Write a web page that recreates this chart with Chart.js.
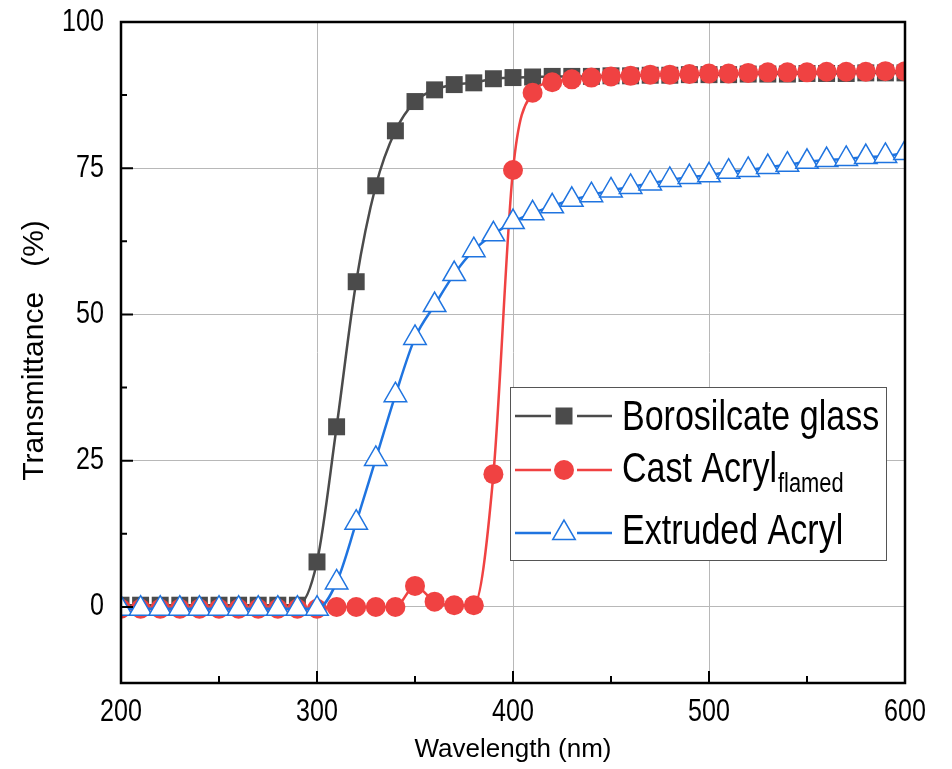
<!DOCTYPE html>
<html>
<head>
<meta charset="utf-8">
<script src="https://cdn.jsdelivr.net/npm/chart.js@4.4.0/dist/chart.umd.min.js"></script>
<style>
  html, body { margin: 0; padding: 0; background: #fff; }
  canvas { display: block; }
</style>
</head>
<body>
<canvas id="myChart" width="952" height="769"></canvas>
<script>
// wavelength (nm) and transmittance (%)
const wavelengths = [200, 210, 220, 230, 240, 250, 260, 270, 280, 290,
    300, 310, 320, 330, 340, 350, 360, 370, 380, 390,
    400, 410, 420, 430, 440, 450, 460, 470, 480, 490,
    500, 510, 520, 530, 540, 550, 560, 570, 580, 590, 600];
const borosilicate = [0.3, 0.3, 0.3, 0.3, 0.3, 0.3, 0.3, 0.3, 0.3, 0.3,
    7.7, 30.8, 55.6, 72.0, 81.4, 86.4, 88.4, 89.3, 89.6, 90.3,
    90.5, 90.6, 90.7, 90.7, 90.7, 90.8, 90.8, 90.9, 90.9, 91.0,
    91.0, 91.0, 91.1, 91.1, 91.1, 91.2, 91.2, 91.2, 91.3, 91.3, 91.3];
const castAcryl = [-0.3, -0.3, -0.3, -0.3, -0.3, -0.3, -0.3, -0.3, -0.3, -0.3,
    -0.3, 0, 0, 0, 0, 3.6, 0.9, 0.3, 0.3, 22.7,
    74.7, 87.9, 89.7, 90.2, 90.5, 90.7, 90.8, 91.0, 91.0, 91.1,
    91.2, 91.2, 91.3, 91.4, 91.4, 91.4, 91.5, 91.5, 91.5, 91.6, 91.6];
const extrudedAcryl = [-0.3, -0.3, -0.3, -0.3, -0.3, -0.3, -0.3, -0.3, -0.3, -0.3,
    -0.3, 4.2, 14.4, 25.3, 36.2, 46.0, 51.6, 56.9, 61.0, 63.7,
    65.8, 67.3, 68.5, 69.6, 70.4, 71.2, 71.8, 72.4, 73.0, 73.5,
    73.8, 74.4, 74.7, 75.2, 75.6, 76.1, 76.4, 76.6, 76.9, 77.1, 77.6];

const xTicks = [200, 300, 400, 500, 600];
const yTicks = [0, 25, 50, 75, 100];
const seriesNames = ['Borosilcate glass', 'Cast Acryl', 'Extruded Acryl'];
const castSubscript = 'flamed';
const xTitle = 'Wavelength (nm)';
const yTitle = 'Transmittance   (%)';

const GRAY = '#4b4b4b';
const RED = '#f04242';
const BLUE = '#1f74e0';
const SANS = '"Liberation Sans", Arial, sans-serif';
const NARROW_X = 0.81; // no Arial Narrow here, so squeeze Liberation Sans

function toPoints(ys) {
    return wavelengths.map((w, i) => ({ x: w, y: ys[i] }));
}

// squeezed text, like Arial Narrow
function narrowText(ctx, text, x, y, size, align) {
    ctx.save();
    ctx.font = size + 'px ' + SANS;
    ctx.textBaseline = 'alphabetic';
    ctx.textAlign = align;
    ctx.translate(x, y);
    ctx.scale(NARROW_X, 1);
    ctx.fillText(text, 0, 0);
    const w = ctx.measureText(text).width * NARROW_X;
    ctx.restore();
    return w;
}

// frame plus inward major/minor ticks on left and bottom
const framePlugin = {
    id: 'frame',
    afterDatasetsDraw(chart) {
        const { ctx, chartArea: a, scales: { x, y } } = chart;
        ctx.save();
        ctx.strokeStyle = '#000';
        ctx.lineWidth = 2;
        ctx.beginPath();
        for (let i = 0; i < xTicks.length; i++) {
            const px = x.getPixelForValue(xTicks[i]);
            ctx.moveTo(px, a.bottom); ctx.lineTo(px, a.bottom - 12);
            if (i < xTicks.length - 1) {
                const mx = x.getPixelForValue((xTicks[i] + xTicks[i + 1]) / 2);
                ctx.moveTo(mx, a.bottom); ctx.lineTo(mx, a.bottom - 7);
            }
        }
        for (let i = 0; i < yTicks.length; i++) {
            const py = y.getPixelForValue(yTicks[i]);
            ctx.moveTo(a.left, py); ctx.lineTo(a.left + 12, py);
            if (i < yTicks.length - 1) {
                const my = y.getPixelForValue((yTicks[i] + yTicks[i + 1]) / 2);
                ctx.moveTo(a.left, my); ctx.lineTo(a.left + 6, my);
            }
        }
        ctx.stroke();
        ctx.lineWidth = 2.5;
        ctx.strokeRect(a.left, a.top, a.right - a.left, a.bottom - a.top);
        ctx.restore();
    }
};

// tick labels and axis titles
const textPlugin = {
    id: 'axisText',
    afterDraw(chart) {
        const { ctx, chartArea: a, scales: { x, y } } = chart;
        ctx.save();
        ctx.fillStyle = '#000';
        xTicks.forEach(v => narrowText(ctx, String(v), x.getPixelForValue(v), a.bottom + 38, 31, 'center'));
        yTicks.forEach(v => narrowText(ctx, String(v), a.left - 17, y.getPixelForValue(v) + 8.5, 31, 'right'));

        ctx.font = '26px ' + SANS;
        ctx.textAlign = 'center';
        ctx.textBaseline = 'alphabetic';
        ctx.fillText(xTitle, (a.left + a.right) / 2, 757);

        ctx.translate(43, (a.top + a.bottom) / 2 - 2);
        ctx.rotate(-Math.PI / 2);
        ctx.font = '30px ' + SANS;
        ctx.fillText(yTitle, 0, 0);
        ctx.restore();
    }
};

function drawMarker(ctx, kind, cx, cy) {
    ctx.beginPath();
    if (kind === 'rect') {
        ctx.fillStyle = GRAY;
        ctx.fillRect(cx - 8.5, cy - 8.5, 17, 17);
    } else if (kind === 'circle') {
        ctx.fillStyle = RED;
        ctx.arc(cx, cy, 10, 0, Math.PI * 2);
        ctx.fill();
    } else {
        const r = 13;
        ctx.moveTo(cx, cy - r);
        ctx.lineTo(cx + r * 0.866, cy + r / 2);
        ctx.lineTo(cx - r * 0.866, cy + r / 2);
        ctx.closePath();
        ctx.fillStyle = '#fff';
        ctx.fill();
        ctx.strokeStyle = BLUE;
        ctx.lineWidth = 1.5;
        ctx.stroke();
    }
}

const legendPlugin = {
    id: 'customLegend',
    afterDraw(chart) {
        const { ctx, chartArea: a } = chart;
        const left = a.left + 389, top = a.top + 365;
        const w = 376, h = 173;
        ctx.save();
        ctx.fillStyle = '#fff';
        ctx.fillRect(left, top, w, h);
        ctx.strokeStyle = '#555';
        ctx.lineWidth = 1;
        ctx.strokeRect(left + 0.5, top + 0.5, w, h);

        const rows = [
            { label: seriesNames[0], color: GRAY, kind: 'rect', ly: 29, ty: 43 },
            { label: seriesNames[1], color: RED, kind: 'circle', ly: 83, ty: 95, sub: castSubscript },
            { label: seriesNames[2], color: BLUE, kind: 'triangle', ly: 146, ty: 157 }
        ];
        rows.forEach(r => {
            const ly = top + r.ly;
            ctx.strokeStyle = r.color;
            ctx.lineWidth = 2.5;
            ctx.beginPath();
            ctx.moveTo(left + 5, ly); ctx.lineTo(left + 41, ly);
            ctx.moveTo(left + 67, ly); ctx.lineTo(left + 102, ly);
            ctx.stroke();
            drawMarker(ctx, r.kind, left + 54, ly);
            ctx.fillStyle = '#000';
            const tw = narrowText(ctx, r.label, left + 112, top + r.ty, 42, 'left');
            if (r.sub) {
                narrowText(ctx, r.sub, left + 112 + tw + 1, top + r.ty + 10, 27, 'left');
            }
        });
        ctx.restore();
    }
};

const ctx = document.getElementById('myChart').getContext('2d');
new Chart(ctx, {
    type: 'line',
    data: {
        datasets: [
            {
                label: seriesNames[0],
                data: toPoints(borosilicate),
                borderColor: GRAY,
                backgroundColor: GRAY,
                borderWidth: 2.5,
                pointStyle: 'rect',
                pointRadius: 12,
                pointBorderWidth: 0,
                cubicInterpolationMode: 'monotone',
                clip: 0,
                order: 3
            },
            {
                label: seriesNames[1],
                data: toPoints(castAcryl),
                borderColor: RED,
                backgroundColor: RED,
                borderWidth: 2.5,
                pointStyle: 'circle',
                pointRadius: 10,
                pointBorderWidth: 0,
                cubicInterpolationMode: 'monotone',
                clip: 0,
                order: 2
            },
            {
                label: seriesNames[2],
                data: toPoints(extrudedAcryl),
                borderColor: BLUE,
                backgroundColor: '#fff',
                borderWidth: 2.5,
                pointStyle: 'triangle',
                pointRadius: 13,
                pointBorderWidth: 1.5,
                pointBorderColor: BLUE,
                cubicInterpolationMode: 'monotone',
                clip: 0,
                order: 1
            }
        ]
    },
    options: {
        responsive: false,
        devicePixelRatio: 1,
        animation: false,
        layout: { padding: { top: 22, right: 47, left: 0, bottom: 0 } },
        plugins: {
            legend: { display: false },
            tooltip: { enabled: false }
        },
        scales: {
            x: {
                type: 'linear',
                min: 200,
                max: 600,
                afterBuildTicks: s => { s.ticks = xTicks.map(v => ({ value: v })); },
                afterFit: s => { s.height = 86; },
                grid: {
                    drawTicks: false,
                    color: c => (c.tick && (c.tick.value === 200 || c.tick.value === 600)) ? 'rgba(0,0,0,0)' : '#b8b8b8',
                    lineWidth: 1
                },
                border: { display: false },
                ticks: { display: false }
            },
            y: {
                min: -13,
                max: 100,
                afterBuildTicks: s => { s.ticks = yTicks.map(v => ({ value: v })); },
                afterFit: s => { s.width = 121; },
                grid: {
                    drawTicks: false,
                    color: c => (c.tick && c.tick.value === 100) ? 'rgba(0,0,0,0)' : '#b8b8b8',
                    lineWidth: 1
                },
                border: { display: false },
                ticks: { display: false }
            }
        }
    },
    plugins: [framePlugin, textPlugin, legendPlugin]
});
</script>
</body>
</html>
